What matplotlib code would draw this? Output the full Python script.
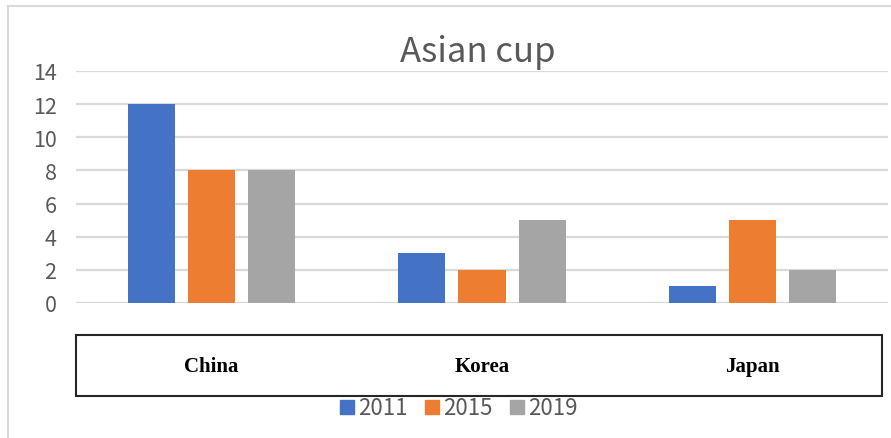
import matplotlib
matplotlib.use("Agg")
import matplotlib.pyplot as plt
from matplotlib.patches import Rectangle, Patch
from matplotlib.lines import Line2D
from matplotlib.transforms import blended_transform_factory
import numpy as np

countries = ["China", "Korea", "Japan"]
years = ["2011", "2015", "2019"]
v2011 = [12, 3, 1]
v2015 = [8, 2, 5]
v2019 = [8, 5, 2]
colors = ["#4472C4", "#ED7D31", "#A5A5A5"]
yticks = [0, 2, 4, 6, 8, 10, 12, 14]

W, H = 891, 439
plt.rcParams['font.family'] = ['Noto Sans CJK SC', 'DejaVu Sans']
fig = plt.figure(figsize=(W / 100, H / 100), dpi=100)

# axes placed in pixel terms
left, right, top, bottom = 76, 888, 72, 304
ax = fig.add_axes([left / W, 1 - bottom / H, (right - left) / W, (bottom - top) / H])

x = np.arange(len(countries))
bw = 0.174
off = 0.222
for i, (vals, c) in enumerate(zip([v2011, v2015, v2019], colors)):
    ax.bar(x + (i - 1) * off, vals, width=bw, color=c, zorder=3)

ax.set_xlim(-0.5, 2.5)
ax.set_ylim(0, 14)
ax.set_yticks(yticks)
ax.set_xticks([])
ax.grid(axis='y', color='#D9D9D9', linewidth=1.6, zorder=0)
ax.axhline(0, color='#D9D9D9', linewidth=1.6, zorder=2)
for s in ax.spines.values():
    s.set_visible(False)
ax.tick_params(axis='y', length=0, pad=14, labelsize=15.5, labelcolor='#595959')
for lab in ax.get_yticklabels():
    lab.set_fontweight('light')

fig.text(478 / W, 1 - 52 / H, "Asian cup", ha='center', va='center',
         fontsize=25, color='#595959', fontweight='light')

# category box
fig.patches.append(Rectangle((76 / W, 1 - 397 / H), (882 - 76) / W, (397 - 336) / H,
                             transform=fig.transFigure, fill=False,
                             edgecolor='#262626', linewidth=1.5))
tr = blended_transform_factory(ax.transData, fig.transFigure)
for xi, name in zip(x, countries):
    ax.text(xi, 1 - 367 / H, name, transform=tr, ha='center', va='center',
            fontsize=15, fontweight='bold', family='Liberation Serif', color='black',
            clip_on=False)

# outer chart border
fig.add_artist(Line2D([8 / W, 8 / W], [0, 1 - 7 / H], transform=fig.transFigure,
                      color='#D9D9D9', linewidth=1.5))
fig.add_artist(Line2D([8 / W, 1], [1 - 7 / H, 1 - 7 / H], transform=fig.transFigure,
                      color='#D9D9D9', linewidth=1.5))

handles = [Patch(color=c, label=y) for c, y in zip(colors, years)]
leg = fig.legend(handles=handles, loc='center', bbox_to_anchor=(459 / W, 1 - 409 / H),
                 ncol=3, frameon=False, handlelength=0.6, handleheight=0.6,
                 handletextpad=0.2, columnspacing=0.8, fontsize=16)
for t in leg.get_texts():
    t.set_color('#595959')
    t.set_fontweight('light')

fig.savefig("out.png", dpi=100)
